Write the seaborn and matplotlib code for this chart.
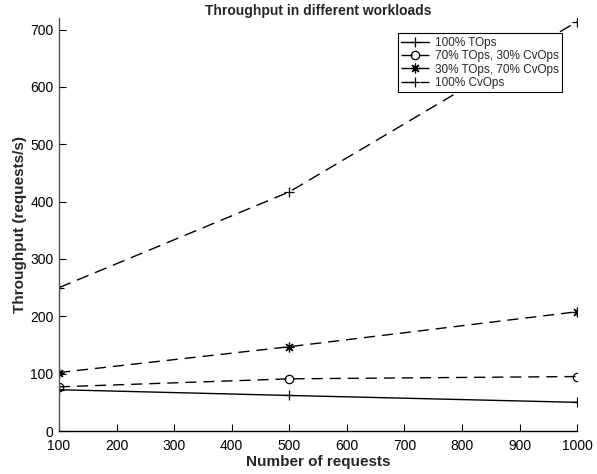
import matplotlib
matplotlib.use("Agg")
import matplotlib.pyplot as plt
import seaborn as sns
import pandas as pd

requests = [100, 500, 1000]
tops100 = [72, 62, 50]
tops70_cv30 = [77, 91, 95]
tops30_cv70 = [102, 147, 208]
cvops100 = [250, 417, 714]
labels = ["100% TOps", "70% TOps, 30% CvOps", "30% TOps, 70% CvOps", "100% CvOps"]

sns.set_theme(style="white")
plt.rcParams['font.family'] = ['Liberation Sans', 'DejaVu Sans']

fig = plt.figure(figsize=(5.97, 4.74), dpi=100)
ax = fig.add_axes([0.0988, 0.0907, 0.868, 0.871])

series = [tops100, tops70_cv30, tops30_cv70, cvops100]
styles = [
    dict(marker='+', linestyle='-', markersize=7),
    dict(marker='o', linestyle=(0, (8, 5)), markersize=6, markerfacecolor='none'),
    dict(marker=(8, 2, 0), linestyle=(0, (8, 5)), markersize=7),
    dict(marker='+', linestyle=(0, (9, 5)), markersize=7),
]
for vals, lab, st in zip(series, labels, styles):
    df = pd.DataFrame({"x": requests, "y": vals})
    sns.lineplot(data=df, x="x", y="y", ax=ax, color='black', linewidth=1.0,
                 label=lab, markeredgecolor='black', markeredgewidth=0.9, **st)

ax.set_xlim(100, 1000)
ax.set_ylim(0, 720)
ax.set_xticks(range(100, 1001, 100))
ax.set_yticks(range(0, 701, 100))
for s in ['top', 'right']:
    ax.spines[s].set_visible(False)
for s in ['left', 'bottom']:
    ax.spines[s].set_color('black')
    ax.spines[s].set_linewidth(1.0)
ax.spines['left'].set_color('#555555')
ax.tick_params(direction='in', length=5, width=0.8, colors='black', labelsize=10,
               bottom=True, left=True)
ax.tick_params(axis='x', pad=6)
ax.tick_params(axis='y', pad=4)
ax.set_xlabel("Number of requests", fontsize=11, fontweight='bold', labelpad=1)
ax.set_ylabel("Throughput (requests/s)", fontsize=11, fontweight='bold', labelpad=2)
ax.set_title("Throughput in different workloads", fontsize=10, fontweight='bold', pad=2)

leg = ax.legend(loc='upper right', bbox_to_anchor=(0.982, 0.978), fontsize=8.5,
                frameon=True, fancybox=False, edgecolor='black', framealpha=1,
                borderpad=0.3, labelspacing=0.12, handlelength=2.3, handletextpad=0.5)
leg.get_frame().set_linewidth(0.8)

fig.savefig("out.png", dpi=100)
